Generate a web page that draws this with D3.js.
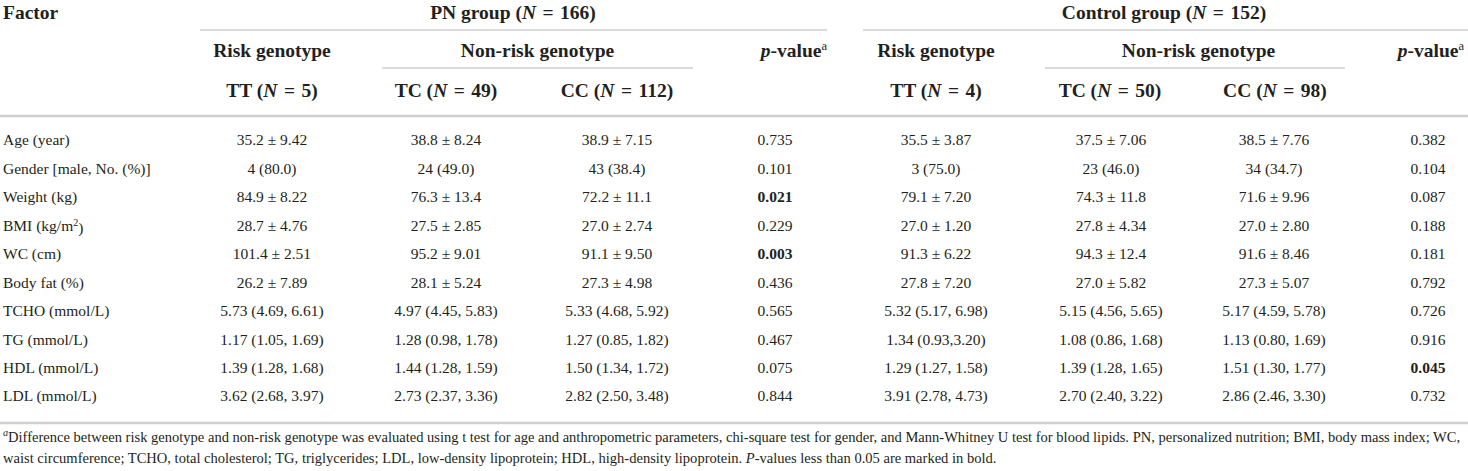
<!DOCTYPE html>
<html lang="en">
<head>
<meta charset="utf-8">
<title>Genotype table</title>
<script src="https://cdn.jsdelivr.net/npm/d3@7"></script>
<style>
    body { margin: 0; background: #fff; }
    svg text { font-family: "Liberation Serif", "Times New Roman", serif; fill: #231f20; }
</style>
</head>
<body>
<script>
    // row labels ("^" marks a superscript)
    var factors = ["Age (year)", "Gender [male, No. (%)]", "Weight (kg)", "BMI (kg/m^2)", "WC (cm)",
                   "Body fat (%)", "TCHO (mmol/L)", "TG (mmol/L)", "HDL (mmol/L)", "LDL (mmol/L)"];

    // header values
    var group_names = ["PN group", "Control group"];
    var group_n = [166, 152];
    var genotypes = ["TT", "TC", "CC"];
    var pn_geno_n = [5, 49, 112];
    var ct_geno_n = [4, 50, 98];

    // PN group cells
    var pn_tt = ["35.2 ± 9.42", "4 (80.0)", "84.9 ± 8.22", "28.7 ± 4.76", "101.4 ± 2.51", "26.2 ± 7.89",
                 "5.73 (4.69, 6.61)", "1.17 (1.05, 1.69)", "1.39 (1.28, 1.68)", "3.62 (2.68, 3.97)"];
    var pn_tc = ["38.8 ± 8.24", "24 (49.0)", "76.3 ± 13.4", "27.5 ± 2.85", "95.2 ± 9.01", "28.1 ± 5.24",
                 "4.97 (4.45, 5.83)", "1.28 (0.98, 1.78)", "1.44 (1.28, 1.59)", "2.73 (2.37, 3.36)"];
    var pn_cc = ["38.9 ± 7.15", "43 (38.4)", "72.2 ± 11.1", "27.0 ± 2.74", "91.1 ± 9.50", "27.3 ± 4.98",
                 "5.33 (4.68, 5.92)", "1.27 (0.85, 1.82)", "1.50 (1.34, 1.72)", "2.82 (2.50, 3.48)"];
    var pn_p = ["0.735", "0.101", "0.021", "0.229", "0.003", "0.436", "0.565", "0.467", "0.075", "0.844"];

    // control group cells
    var ct_tt = ["35.5 ± 3.87", "3 (75.0)", "79.1 ± 7.20", "27.0 ± 1.20", "91.3 ± 6.22", "27.8 ± 7.20",
                 "5.32 (5.17, 6.98)", "1.34 (0.93,3.20)", "1.29 (1.27, 1.58)", "3.91 (2.78, 4.73)"];
    var ct_tc = ["37.5 ± 7.06", "23 (46.0)", "74.3 ± 11.8", "27.8 ± 4.34", "94.3 ± 12.4", "27.0 ± 5.82",
                 "5.15 (4.56, 5.65)", "1.08 (0.86, 1.68)", "1.39 (1.28, 1.65)", "2.70 (2.40, 3.22)"];
    var ct_cc = ["38.5 ± 7.76", "34 (34.7)", "71.6 ± 9.96", "27.0 ± 2.80", "91.6 ± 8.46", "27.3 ± 5.07",
                 "5.17 (4.59, 5.78)", "1.13 (0.80, 1.69)", "1.51 (1.30, 1.77)", "2.86 (2.46, 3.30)"];
    var ct_p = ["0.382", "0.104", "0.087", "0.188", "0.181", "0.792", "0.726", "0.916", "0.045", "0.732"];

    var footnote_1 = "Difference between risk genotype and non-risk genotype was evaluated using t test for age and anthropometric parameters, chi-square test for gender, and Mann-Whitney U test for blood lipids. PN, personalized nutrition; BMI, body mass index; WC,";
    var footnote_2a = "waist circumference; TCHO, total cholesterol; TG, triglycerides; LDL, low-density lipoprotein; HDL, high-density lipoprotein. ";
    var footnote_2b = "-values less than 0.05 are marked in bold.";

    var width = 1468, height = 471;
    var line_color = "#cfcfcf";
    var head_size = 19.5, body_size = 15.5;

    var svg = d3.select("body").append("svg")
        .attr("width", width)
        .attr("height", height);

    // columns: key -> x centre
    var col_keys = ["pn_tt", "pn_tc", "pn_cc", "pn_p", "ct_tt", "ct_tc", "ct_cc", "ct_p"];
    var x = d3.scaleOrdinal()
        .domain(col_keys)
        .range([272, 446, 617, 775, 936, 1111, 1274, 1428]);
    var x_head = d3.scaleOrdinal()
        .domain(col_keys)
        .range([272, 446, 617, 794, 936, 1110, 1275, 1431]);

    // rows
    var y = d3.scalePoint()
        .domain(factors)
        .range([140, 396]);

    function rule(x1, x2, yy, w) {
        svg.append("line")
            .attr("x1", x1).attr("x2", x2)
            .attr("y1", yy).attr("y2", yy)
            .attr("stroke", line_color)
            .attr("stroke-width", w);
    }

    // text with an italic N: "TT (N = 5)"
    function n_label(g, xx, yy, prefix, n) {
        var t = g.append("text")
            .attr("x", xx).attr("y", yy).attr("dy", "0.35em")
            .attr("text-anchor", "middle")
            .attr("font-weight", "bold")
            .attr("font-size", head_size);
        t.append("tspan").text(prefix + " (");
        t.append("tspan").attr("font-style", "italic").text("N");
        t.append("tspan").text(" \u200A=\u200A " + n + ")");
        return t;
    }

    var head = svg.append("g");

    // row 1
    head.append("text")
        .attr("x", 3).attr("y", 12).attr("dy", "0.35em")
        .attr("font-weight", "bold").attr("font-size", head_size)
        .text("Factor");
    n_label(head, 513, 12, group_names[0], group_n[0]);
    n_label(head, 1164, 12, group_names[1], group_n[1]);
    rule(200, 827, 30, 1.5);
    rule(863, 1468, 30, 1.5);

    // row 2
    ["pn", "ct"].forEach(function(k) {
        head.append("text")
            .attr("x", x_head(k + "_tt")).attr("y", 50).attr("dy", "0.35em")
            .attr("text-anchor", "middle")
            .attr("font-weight", "bold").attr("font-size", head_size)
            .text("Risk genotype");
        head.append("text")
            .attr("x", (x_head(k + "_tc") + x_head(k + "_cc")) / 2 + 6).attr("y", 50).attr("dy", "0.35em")
            .attr("text-anchor", "middle")
            .attr("font-weight", "bold").attr("font-size", head_size)
            .text("Non-risk genotype");
        var pt = head.append("text")
            .attr("x", x_head(k + "_p")).attr("y", 50).attr("dy", "0.35em")
            .attr("text-anchor", "middle")
            .attr("font-weight", "bold").attr("font-size", head_size);
        pt.append("tspan").attr("font-style", "italic").text("p");
        pt.append("tspan").text("-value");
        pt.append("tspan").attr("font-size", head_size * 0.65).attr("font-weight", "normal")
            .attr("dy", "-0.55em").text("a");
    });
    rule(382, 693, 68, 1.5);
    rule(1045, 1345, 68, 1.5);

    // row 3
    genotypes.forEach(function(gt, i) {
        n_label(head, x_head("pn_" + gt.toLowerCase()), 90, gt, pn_geno_n[i]);
        n_label(head, x_head("ct_" + gt.toLowerCase()), 90, gt, ct_geno_n[i]);
    });
    rule(0, width, 116, 2.5);

    // body rows
    var columns = { pn_tt: pn_tt, pn_tc: pn_tc, pn_cc: pn_cc, pn_p: pn_p,
                    ct_tt: ct_tt, ct_tc: ct_tc, ct_cc: ct_cc, ct_p: ct_p };

    var body = svg.append("g").attr("font-size", body_size);

    body.selectAll("text.factor")
        .data(factors)
        .enter()
        .append("text")
        .attr("class", "factor")
        .attr("x", 3)
        .attr("y", function(d) { return y(d); })
        .attr("dy", "0.35em")
        .each(function(d) {
            var parts = d.split("^");
            var t = d3.select(this);
            t.append("tspan").text(parts[0]);
            if (parts.length > 1) {
                t.append("tspan").attr("font-size", body_size * 0.65).attr("dy", "-0.5em").text(parts[1].charAt(0));
                t.append("tspan").attr("dy", "0.5em").text(parts[1].slice(1));
            }
        });

    col_keys.forEach(function(k) {
        var is_p = k.slice(-2) === "_p";
        body.selectAll("text." + k)
            .data(columns[k])
            .enter()
            .append("text")
            .attr("class", k)
            .attr("x", x(k))
            .attr("y", function(d, i) { return y(factors[i]); })
            .attr("dy", "0.35em")
            .attr("text-anchor", "middle")
            .attr("font-weight", function(d) { return is_p && +d < 0.05 ? "bold" : "normal"; })
            .text(function(d) { return d; });
    });

    rule(0, width, 423, 2.5);

    // footnotes
    var fn = svg.append("g").attr("font-size", 13);
    var f1 = fn.append("text").attr("x", 3).attr("y", 440).attr("dy", "0.35em");
    f1.append("tspan").attr("font-style", "italic").attr("font-size", 9).attr("dy", "-0.4em").text("a");
    f1.append("tspan").attr("dy", "0.4em").text(footnote_1);
    // size the font so the first line fills the width like the reference
    var fs = 13 * (width - 10) / f1.node().getComputedTextLength();
    fn.attr("font-size", fs);
    f1.select("tspan").attr("font-size", fs * 0.7);

    var f2 = fn.append("text").attr("x", 3).attr("y", 458).attr("dy", "0.35em");
    f2.append("tspan").text(footnote_2a);
    f2.append("tspan").attr("font-style", "italic").text("P");
    f2.append("tspan").text(footnote_2b);
</script>
</body>
</html>
